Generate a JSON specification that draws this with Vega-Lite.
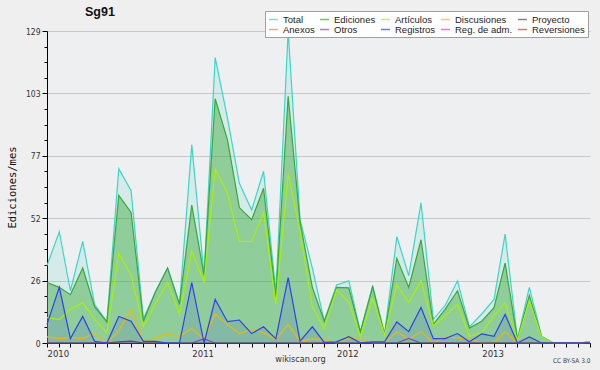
{
  "$schema": "https://vega.github.io/schema/vega-lite/v6.json",
  "width": 543,
  "height": 312,
  "autosize": "none",
  "padding": {"left": 47, "top": 31, "right": 10, "bottom": 27},
  "background": "#efefef",
  "config": {
    "view": {"stroke": null, "fill": "#eeeff0"},
    "font": "DejaVu Sans Condensed, DejaVu Sans"
  },
  "title": {
    "text": "Sg91",
    "anchor": "start",
    "frame": "group",
    "dx": 38,
    "dy": 30,
    "fontSize": 12.5,
    "font": "Liberation Sans",
    "fontWeight": "bold",
    "color": "#111111",
    "baseline": "alphabetic",
    "offset": 12
  },
  "data": {
    "values": [
      {"m": "2010-01-01", "Total": 32, "Ediciones": 25, "Artículos": 10.5, "Discusiones": 2.5, "Registros": 7.7, "Otros": 0, "Proyecto": 0},
      {"m": "2010-02-01", "Total": 46, "Ediciones": 23, "Artículos": 9.7, "Discusiones": 1.8, "Registros": 23, "Otros": 0, "Proyecto": 0},
      {"m": "2010-03-01", "Total": 21.6, "Ediciones": 20, "Artículos": 14, "Discusiones": 2.3, "Registros": 1.8, "Otros": 0, "Proyecto": 0},
      {"m": "2010-04-01", "Total": 42, "Ediciones": 31, "Artículos": 16.7, "Discusiones": 1.8, "Registros": 11, "Otros": 0, "Proyecto": 0},
      {"m": "2010-05-01", "Total": 16, "Ediciones": 15, "Artículos": 9.8, "Discusiones": 4, "Registros": 0.7, "Otros": 0, "Proyecto": 0},
      {"m": "2010-06-01", "Total": 8.7, "Ediciones": 8.7, "Artículos": 4.3, "Discusiones": 0, "Registros": 0, "Otros": 0, "Proyecto": 0},
      {"m": "2010-07-01", "Total": 72, "Ediciones": 61, "Artículos": 37, "Discusiones": 5, "Registros": 11, "Otros": 0, "Proyecto": 0.5},
      {"m": "2010-08-01", "Total": 63, "Ediciones": 54, "Artículos": 28, "Discusiones": 14, "Registros": 9, "Otros": 0, "Proyecto": 0.8},
      {"m": "2010-09-01", "Total": 10, "Ediciones": 9, "Artículos": 6.8, "Discusiones": 0.5, "Registros": 0.7, "Otros": 0, "Proyecto": 0},
      {"m": "2010-10-01", "Total": 21, "Ediciones": 21, "Artículos": 16, "Discusiones": 2, "Registros": 0.7, "Otros": 0, "Proyecto": 0},
      {"m": "2010-11-01", "Total": 31, "Ediciones": 31, "Artículos": 25, "Discusiones": 3.9, "Registros": 0, "Otros": 0, "Proyecto": 0},
      {"m": "2010-12-01", "Total": 16, "Ediciones": 16, "Artículos": 12, "Discusiones": 2.6, "Registros": 0, "Otros": 0, "Proyecto": 0},
      {"m": "2011-01-01", "Total": 82, "Ediciones": 57, "Artículos": 38, "Discusiones": 6, "Registros": 25, "Otros": 0, "Proyecto": 0},
      {"m": "2011-02-01", "Total": 28, "Ediciones": 28, "Artículos": 25, "Discusiones": 1.5, "Registros": 0, "Otros": 1.7, "Proyecto": 0},
      {"m": "2011-03-01", "Total": 118, "Ediciones": 101, "Artículos": 72, "Discusiones": 12, "Registros": 18, "Otros": 0, "Proyecto": 0},
      {"m": "2011-04-01", "Total": 93, "Ediciones": 84, "Artículos": 62, "Discusiones": 7.7, "Registros": 8.8, "Otros": 0, "Proyecto": 0},
      {"m": "2011-05-01", "Total": 66, "Ediciones": 56, "Artículos": 42, "Discusiones": 3.9, "Registros": 9.5, "Otros": 0, "Proyecto": 0},
      {"m": "2011-06-01", "Total": 55, "Ediciones": 51, "Artículos": 42, "Discusiones": 5.6, "Registros": 3.9, "Otros": 0, "Proyecto": 0},
      {"m": "2011-07-01", "Total": 71, "Ediciones": 64, "Artículos": 54, "Discusiones": 4.2, "Registros": 6.7, "Otros": 0, "Proyecto": 0},
      {"m": "2011-08-01", "Total": 21, "Ediciones": 19, "Artículos": 16, "Discusiones": 1.5, "Registros": 1.7, "Otros": 0, "Proyecto": 0},
      {"m": "2011-09-01", "Total": 129, "Ediciones": 102, "Artículos": 70, "Discusiones": 7.7, "Registros": 27, "Otros": 0, "Proyecto": 0},
      {"m": "2011-10-01", "Total": 51, "Ediciones": 50, "Artículos": 46, "Discusiones": 0.8, "Registros": 0.8, "Otros": 0, "Proyecto": 0},
      {"m": "2011-11-01", "Total": 31, "Ediciones": 23, "Artículos": 15, "Discusiones": 1.7, "Registros": 6.7, "Otros": 0, "Proyecto": 0},
      {"m": "2011-12-01", "Total": 9, "Ediciones": 9, "Artículos": 6, "Discusiones": 1.5, "Registros": 0.3, "Otros": 0, "Proyecto": 0},
      {"m": "2012-01-01", "Total": 24, "Ediciones": 23, "Artículos": 22, "Discusiones": 0, "Registros": 0.5, "Otros": 0, "Proyecto": 0},
      {"m": "2012-02-01", "Total": 25.7, "Ediciones": 22.8, "Artículos": 17, "Discusiones": 2.1, "Registros": 2.6, "Otros": 0, "Proyecto": 0},
      {"m": "2012-03-01", "Total": 4.6, "Ediciones": 4.6, "Artículos": 2.6, "Discusiones": 1.5, "Registros": 0.1, "Otros": 0, "Proyecto": 0},
      {"m": "2012-04-01", "Total": 23.7, "Ediciones": 23.2, "Artículos": 18.4, "Discusiones": 0, "Registros": 0.5, "Otros": 0, "Proyecto": 0},
      {"m": "2012-05-01", "Total": 3.6, "Ediciones": 3.6, "Artículos": 3.4, "Discusiones": 0, "Registros": 0.5, "Otros": 0, "Proyecto": 0},
      {"m": "2012-06-01", "Total": 44, "Ediciones": 35, "Artículos": 24, "Discusiones": 4.7, "Registros": 8.7, "Otros": 0, "Proyecto": 0},
      {"m": "2012-07-01", "Total": 27.8, "Ediciones": 23, "Artículos": 16.7, "Discusiones": 1.5, "Registros": 4.7, "Otros": 1.9, "Proyecto": 0},
      {"m": "2012-08-01", "Total": 58, "Ediciones": 42.7, "Artículos": 25.7, "Discusiones": 4.7, "Registros": 14.7, "Otros": 0, "Proyecto": 0},
      {"m": "2012-09-01", "Total": 9.8, "Ediciones": 7.7, "Artículos": 7.1, "Discusiones": 0, "Registros": 1.8, "Otros": 0, "Proyecto": 0},
      {"m": "2012-10-01", "Total": 15.6, "Ediciones": 14, "Artículos": 11.2, "Discusiones": 2.5, "Registros": 1.8, "Otros": 0, "Proyecto": 0},
      {"m": "2012-11-01", "Total": 25.7, "Ediciones": 21.6, "Artículos": 16, "Discusiones": 2.1, "Registros": 3.9, "Otros": 0, "Proyecto": 0},
      {"m": "2012-12-01", "Total": 6.7, "Ediciones": 6.2, "Artículos": 2.8, "Discusiones": 1.6, "Registros": 0.5, "Otros": 0, "Proyecto": 0},
      {"m": "2013-01-01", "Total": 12, "Ediciones": 9, "Artículos": 4.2, "Discusiones": 0, "Registros": 3.8, "Otros": 0, "Proyecto": 0},
      {"m": "2013-02-01", "Total": 18, "Ediciones": 14.6, "Artículos": 11.4, "Discusiones": 0, "Registros": 2.8, "Otros": 0, "Proyecto": 0},
      {"m": "2013-03-01", "Total": 45, "Ediciones": 33, "Artículos": 16.7, "Discusiones": 4.6, "Registros": 11.8, "Otros": 0, "Proyecto": 0},
      {"m": "2013-04-01", "Total": 1.5, "Ediciones": 1.5, "Artículos": 1.2, "Discusiones": 0, "Registros": 0, "Otros": 0, "Proyecto": 0},
      {"m": "2013-05-01", "Total": 23, "Ediciones": 19.7, "Artículos": 17.4, "Discusiones": 0, "Registros": 2.5, "Otros": 0, "Proyecto": 0},
      {"m": "2013-06-01", "Total": 2.8, "Ediciones": 2.6, "Artículos": 2.5, "Discusiones": 0, "Registros": 0, "Otros": 0, "Proyecto": 0},
      {"m": "2013-07-01", "Total": 0, "Ediciones": 0, "Artículos": 0, "Discusiones": 0, "Registros": 0, "Otros": 0, "Proyecto": 0},
      {"m": "2013-08-01", "Total": 0, "Ediciones": 0, "Artículos": 0, "Discusiones": 0, "Registros": 0, "Otros": 0, "Proyecto": 0},
      {"m": "2013-09-01", "Total": 0, "Ediciones": 0, "Artículos": 0, "Discusiones": 0, "Registros": 0, "Otros": 0, "Proyecto": 0},
      {"m": "2013-10-01", "Total": 0.5, "Ediciones": 0.5, "Artículos": 0.3, "Discusiones": 0.5, "Registros": 0, "Otros": 0, "Proyecto": 0}
    ]
  },
  "layer": [
    {
      "mark": {"type": "area", "fill": "#40d8c8", "fillOpacity": 0.14, "opacity": 1, "line": false},
      "encoding": {
        "x": {
          "field": "m", "type": "temporal",
          "scale": {"type": "utc", "domain": [{"year": 2010, "month": 1, "date": 1, "utc": true}, {"year": 2013, "month": 10, "date": 1, "utc": true}], "nice": false},
          "axis": {"orient": "bottom", "domain": false, "ticks": false, "labels": false, "grid": false, "title": "CC BY-SA 3.0", "titleX": 543, "titleY": 19, "titleAlign": "right", "titleAnchor": null, "titleBaseline": "alphabetic", "titleFontSize": 6.5, "titleFontWeight": "normal", "titleColor": "#444444"}
        },
        "y": {
          "field": "Total", "type": "quantitative",
          "scale": {"domain": [0, 129], "nice": false},
          "axis": {"orient": "left", "values": [6.45, 12.9, 19.35, 32.25, 38.7, 45.15, 58.05, 64.5, 70.95, 83.85, 90.3, 96.75, 109.65, 116.1, 122.55], "labels": false, "domain": false, "grid": false, "tickSize": 3, "tickColor": "#000000", "title": null}
        }
      }
    },
    {
      "mark": {"type": "area", "fill": "#3aa83a", "fillOpacity": 0.45, "opacity": 1, "line": false},
      "encoding": {
        "x": {"field": "m", "type": "temporal", "axis": null},
        "y": {"field": "Ediciones", "type": "quantitative", "axis": null}
      }
    },
    {
      "mark": {"type": "area", "fill": "#3040f0", "fillOpacity": 0.13, "opacity": 1, "line": false},
      "encoding": {
        "x": {"field": "m", "type": "temporal", "axis": null},
        "y": {"field": "Registros", "type": "quantitative", "axis": null}
      }
    },
    {
      "transform": [
        {"fold": ["Total", "Ediciones", "Artículos", "Discusiones", "Otros", "Proyecto", "Registros"], "as": ["serie", "valor"]}
      ],
      "mark": {"type": "line", "strokeWidth": 1.2},
      "encoding": {
        "x": {
          "field": "m", "type": "temporal",
          "axis": {
            "orient": "bottom",
            "tickCount": {"interval": "month", "step": 1},
            "labelExpr": "utcFormat(datum.value, '%m') == '01' ? utcFormat(datum.value, '%Y') : ''",
            "labelAlign": "left",
            "labelPadding": 1,
            "labelFlush": false,
            "labelOverlap": false,
            "labelFontSize": 9.5,
            "labelColor": "#333333",
            "tickSize": 4,
            "tickColor": "#000000",
            "domainColor": "#000000",
            "grid": false,
            "title": "wikiscan.org",
            "titleX": 253,
            "titleY": 18,
            "titleAnchor": null,
            "titleAlign": "center",
            "titleBaseline": "alphabetic",
            "titleFontSize": 9,
            "titleFontWeight": "normal",
            "titleColor": "#333333"
          }
        },
        "y": {
          "field": "valor", "type": "quantitative",
          "axis": {
            "orient": "left",
            "values": [0, 25.8, 51.6, 77.4, 103.2, 129],
            "labelExpr": "format(datum.value, '.0f')",
            "labelFontSize": 8.5,
            "labelColor": "#333333",
            "labelPadding": 2,
            "tickSize": 5,
            "tickColor": "#000000",
            "domainColor": "#000000",
            "grid": true,
            "gridColor": "#c8c8c8",
            "title": "Ediciones/mes",
            "titleFont": "DejaVu Sans Mono",
            "titleFontSize": 10.5,
            "titleFontWeight": "normal",
            "titleColor": "#111111",
            "titlePadding": 8
          }
        },
        "color": {
          "field": "serie", "type": "nominal",
          "scale": {
            "domain": ["Total", "Ediciones", "Artículos", "Discusiones", "Proyecto", "Anexos", "Otros", "Registros", "Reg. de adm.", "Reversiones"],
            "range": ["#3cd6c8", "#3aa83a", "#aaf000", "#f0b800", "#505050", "#f08040", "#8040e0", "#3040f0", "#d040e0", "#e03030"]
          },
          "legend": {
            "orient": "none",
            "legendX": 218,
            "legendY": -20,
            "direction": "horizontal",
            "columns": 5,
            "title": null,
            "fillColor": "#ffffff",
            "strokeColor": "#a0a0a0",
            "padding": 3,
            "columnPadding": 2,
            "rowPadding": 0,
            "symbolType": "stroke",
            "symbolSize": 81,
            "symbolStrokeWidth": 1.5,
            "symbolOpacity": 0.7,
            "labelFont": "Liberation Sans",
            "labelFontSize": 9.5,
            "labelColor": "#222222",
            "labelOffset": 4
          }
        }
      }
    }
  ],
  "resolve": {"axis": {"x": "independent", "y": "independent"}}
}
